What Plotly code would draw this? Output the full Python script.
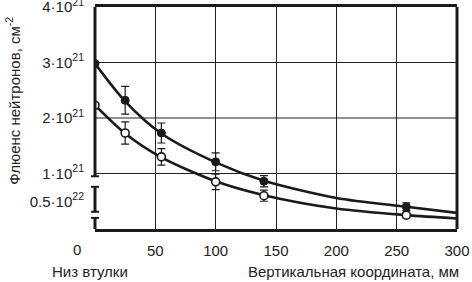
import plotly.graph_objects as go

# measured points (x in mm, fluence in 1e21 cm^-2)
x_pts = [0, 25, 55, 100, 140, 258]
filled_y = [2.98, 2.32, 1.73, 1.21, 0.86, 0.40]
filled_err = [0, 0.25, 0.18, 0.16, 0.10, 0.07]
open_y = [2.23, 1.73, 1.30, 0.85, 0.60, 0.25]
open_err = [0, 0.20, 0.15, 0.14, 0.10, 0.05]

# smooth fitted curves
curve_x = [0, 25, 55, 100, 140, 200, 258, 300]
filled_curve = [2.98, 2.30, 1.72, 1.20, 0.87, 0.56, 0.40, 0.29]
open_curve = [2.23, 1.72, 1.29, 0.86, 0.61, 0.37, 0.25, 0.19]

x_ticks = [0, 50, 100, 150, 200, 250, 300]
y_ticks = [0.5, 1, 2, 3, 4]
y_ticktext = ["0.5·10<sup>22</sup>", "1·10<sup>21</sup>", "2·10<sup>21</sup>",
              "3·10<sup>21</sup>", "4·10<sup>21</sup>"]

E = 1e21
font = dict(family="Liberation Sans, Arial, sans-serif", size=15, color="#222")

fig = go.Figure()
fig.add_trace(go.Scatter(x=curve_x, y=[v * E for v in filled_curve], mode="lines",
                         line=dict(color="#1a1a1a", width=2.6, shape="spline", smoothing=0.8),
                         hoverinfo="skip", showlegend=False))
fig.add_trace(go.Scatter(x=curve_x, y=[v * E for v in open_curve], mode="lines",
                         line=dict(color="#1a1a1a", width=2.6, shape="spline", smoothing=0.8),
                         hoverinfo="skip", showlegend=False))
fig.add_trace(go.Scatter(x=x_pts, y=[v * E for v in filled_y], mode="markers",
                         marker=dict(color="#1a1a1a", size=8, line=dict(color="#1a1a1a", width=1)),
                         error_y=dict(type="data", array=[v * E for v in filled_err],
                                      color="#1a1a1a", thickness=1.2, width=4),
                         showlegend=False))
fig.add_trace(go.Scatter(x=x_pts, y=[v * E for v in open_y], mode="markers",
                         marker=dict(color="white", size=8, line=dict(color="#1a1a1a", width=1.6)),
                         error_y=dict(type="data", array=[v * E for v in open_err],
                                      color="#1a1a1a", thickness=1.2, width=4),
                         showlegend=False))

fig.update_layout(
    width=472, height=282,
    margin=dict(l=95, r=15, t=7, b=53, autoexpand=False),
    paper_bgcolor="white", plot_bgcolor="white",
    font=font,
    xaxis=dict(range=[0, 300], tickvals=x_ticks,
               ticktext=[""] + [str(v) for v in x_ticks[1:]],
               showgrid=True, gridcolor="#222", gridwidth=1,
               showline=True, linecolor="#1a1a1a", linewidth=3, mirror=True,
               ticks="", ticklabelstandoff=6, zeroline=False, tickfont=font,
               automargin=False),
    yaxis=dict(range=[0, 4 * E], tickvals=[v * E for v in y_ticks], ticktext=y_ticktext,
               showgrid=False, showline=False, ticks="", ticklabelstandoff=10,
               zeroline=False, tickfont=font, automargin=False,
               ticklabeloverflow="allow"),
)

# horizontal grid lines (skip 0.5 level)
shapes = []
for v in [1, 2, 3]:
    shapes.append(dict(type="line", xref="paper", yref="y", x0=0, x1=1, y0=v * E, y1=v * E,
                       line=dict(color="#222", width=1), layer="below"))
# right border
shapes.append(dict(type="line", xref="paper", yref="y", x0=1, x1=1, y0=0, y1=4 * E,
                   line=dict(color="#1a1a1a", width=3)))
# broken left axis
segs = [(0.95, 4.0), (0.31, 0.76), (0.0, 0.20)]
for y0, y1 in segs:
    shapes.append(dict(type="line", xref="paper", yref="y", x0=0, x1=0, y0=y0 * E, y1=y1 * E,
                       line=dict(color="#1a1a1a", width=3)))
caps = [0.95, 0.76, 0.31, 0.20]
for c in caps:
    shapes.append(dict(type="line", xref="paper", yref="y", x0=-0.011, x1=0.011,
                       y0=c * E, y1=c * E, line=dict(color="#1a1a1a", width=2)))
fig.update_layout(shapes=shapes)

fig.add_annotation(text="0", xref="paper", yref="paper", x=-0.05, y=-0.045,
                   showarrow=False, font=font, xanchor="center", yanchor="top")
fig.add_annotation(text="Низ втулки", xref="paper", yref="paper", x=-0.014, y=-0.145,
                   showarrow=False, font=font, xanchor="center", yanchor="top")
fig.add_annotation(text="Вертикальная координата, мм", xref="paper", yref="paper",
                   x=1.01, y=-0.145, showarrow=False, font=font,
                   xanchor="right", yanchor="top")
fig.add_annotation(text="Флюенс нейтронов, см<sup>-2</sup>", xref="paper", yref="paper",
                   x=-0.228, y=0.58, textangle=-90, showarrow=False, font=font,
                   xanchor="center", yanchor="middle")

fig.write_html("out.html", config={"displayModeBar": False},
               post_script="document.body.style.margin='0';")
